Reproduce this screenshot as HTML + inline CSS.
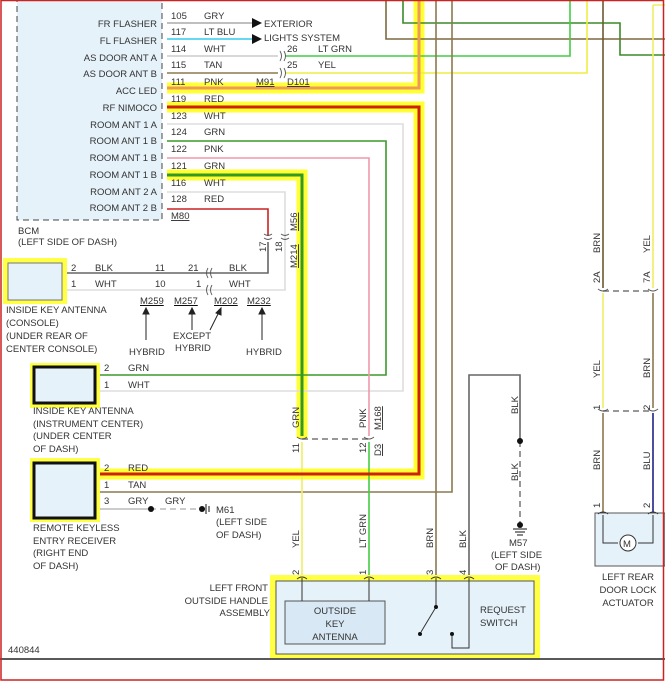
<!DOCTYPE html>
<html><head><meta charset="utf-8"><style>
html,body{margin:0;padding:0;background:#fff}
svg{display:block}
text{font-family:"Liberation Sans",sans-serif;font-size:9.5px;fill:#333}
</style></head><body>
<svg width="665" height="681" viewBox="0 0 665 681" xmlns="http://www.w3.org/2000/svg">
<rect x="0" y="0" width="665" height="681" fill="#fff"/>
<rect x="17" y="-2" width="145" height="222" fill="#e6f2fa" stroke="#444" stroke-dasharray="6,4"/>
<g text-anchor="end">
<text x="157" y="27">FR FLASHER</text><text x="157" y="44">FL FLASHER</text>
<text x="157" y="61">AS DOOR ANT A</text><text x="157" y="77">AS DOOR ANT B</text>
<text x="157" y="94">ACC LED</text><text x="157" y="111">RF NIMOCO</text>
<text x="157" y="128">ROOM ANT 1 A</text><text x="157" y="144">ROOM ANT 1 B</text>
<text x="157" y="161">ROOM ANT 1 B</text><text x="157" y="178">ROOM ANT 1 B</text>
<text x="157" y="195">ROOM ANT 2 A</text><text x="157" y="211">ROOM ANT 2 B</text>
</g>
<text x="18" y="234">BCM</text><text x="18" y="245">(LEFT SIDE OF DASH)</text>
<g fill="none" stroke="#ffff33" stroke-width="11">
<path d="M167 88 H419 V0"/>
<path d="M167 107 H419 V474 H100"/>
<path d="M167 175 H302 V438"/>
</g>
<g fill="none" stroke-width="1.6">
<path d="M403 0 V23 H620 V55 H665" stroke="#3a8a2a"/>
<path d="M386 0 V39 H665" stroke="#7a6a40"/>
<path d="M285 56 H570 V0" stroke="#44cc44"/>
<path d="M285 73 H587 V0" stroke="#eeee44"/>
<path d="M436 0 V578" stroke="#8a7a50"/>
<path d="M452 0 V492 H100" stroke="#8a7a50"/>
<path d="M167 23 H252" stroke="#aaa"/>
<path d="M167 39 H252" stroke="#33ccee"/>
<path d="M167 56 H278" stroke="#ccc"/>
<path d="M167 73 H278" stroke="#8a7a50"/>
<path d="M167 124 H403 V391 H100" stroke="#ddd"/>
<path d="M167 141 H386 V375 H100" stroke="#3a9a2a"/>
<path d="M167 158 H369 V436" stroke="#ee99aa"/>
<path d="M369 442 V578" stroke="#44cc44"/>
<path d="M302 442 V578" stroke="#eeee66"/>
<path d="M167 192 H285 V290 H67" stroke="#ddd"/>
<path d="M167 209 H268 V236" stroke="#cc2222"/>
<path d="M268 242 V273 H67" stroke="#666"/>
<path d="M603 0 V288" stroke="#6a5a30"/><path d="M603 293 V408" stroke="#eeee66"/><path d="M603 413 V515" stroke="#8a7a50"/>
<path d="M653 5 H665 M653 5 V288" stroke="#eeee66"/><path d="M653 293 V408" stroke="#8a7a50"/><path d="M653 413 V515" stroke="#222288"/>
<path d="M469 575 V375 H520 V441" stroke="#666"/>
<path d="M100 509 H150" stroke="#bbb"/>
</g>
<g fill="none" stroke-width="3">
<path d="M167 88 H419 V0" stroke="#ee9955"/>
<path d="M167 107 H419 V474 H100" stroke="#cc2200"/>
<path d="M167 175 H302 V436" stroke="#339922"/>
</g>
<g fill="none" stroke="#777" stroke-width="1.5" stroke-dasharray="6,4">
<path d="M302 439 H369"/><path d="M603 291 H653"/><path d="M603 411 H653"/>
<path d="M520 441 V525"/><path d="M150 509 H205" stroke="#bbb"/>
</g>
<circle cx="520" cy="441" r="3" fill="#111"/><circle cx="520" cy="525" r="3" fill="#111"/>
<circle cx="151" cy="509" r="3" fill="#111"/><circle cx="202" cy="509" r="3" fill="#111"/>
<path d="M206 504 V514 M209 506 V512" stroke="#111"/>
<path d="M513 529 H527 M515 532 H525 M517 535 H523" stroke="#111"/>
<path d="M252 18 L262 23 L252 28 Z M252 34 L262 39 L252 44 Z" fill="#111"/>
<text x="264" y="27">EXTERIOR</text><text x="264" y="41">LIGHTS SYSTEM</text>
<g fill="none" stroke="#555" stroke-width="0.9">
<path d="M280 51 q3 5 0 10 M284 51 q3 5 0 10 M280 68 q3 5 0 10 M284 68 q3 5 0 10"/>
<path d="M264 234 q4 3 8 0 M281 234 q4 3 8 0 M264 238 q4 3 8 0 M281 238 q4 3 8 0"/>
<path d="M208 268 q-3 5 0 10 M212 268 q-3 5 0 10 M208 285 q-3 5 0 10 M212 285 q-3 5 0 10"/>
<path d="M297 437 q5 4 10 0 M364 437 q5 4 10 0 M598 289 q5 4 10 0 M648 289 q5 4 10 0 M598 409 q5 4 10 0 M648 409 q5 4 10 0"/>
</g>
<g font-size="9">
<text x="171" y="19">105</text><text x="204" y="19">GRY</text>
<text x="171" y="35">117</text><text x="204" y="35">LT BLU</text>
<text x="171" y="52">114</text><text x="204" y="52">WHT</text>
<text x="171" y="68">115</text><text x="204" y="68">TAN</text>
<text x="171" y="85">111</text><text x="204" y="85">PNK</text>
<text x="171" y="102">119</text><text x="204" y="102">RED</text>
<text x="171" y="119">123</text><text x="204" y="119">WHT</text>
<text x="171" y="135">124</text><text x="204" y="135">GRN</text>
<text x="171" y="152">122</text><text x="204" y="152">PNK</text>
<text x="171" y="169">121</text><text x="204" y="169">GRN</text>
<text x="171" y="186">116</text><text x="204" y="186">WHT</text>
<text x="171" y="202">128</text><text x="204" y="202">RED</text>
<text x="171" y="219" text-decoration="underline">M80</text>
<text x="287" y="52">26</text><text x="318" y="52">LT GRN</text>
<text x="287" y="68">25</text><text x="318" y="68">YEL</text>
<text x="256" y="85" text-decoration="underline">M91</text><text x="287" y="85" text-decoration="underline">D101</text>
</g>
<rect x="3" y="258" width="64" height="46" fill="#ffff44"/>
<rect x="8" y="263" width="54" height="37" fill="#e6f2fa" stroke="#777"/>
<text x="71" y="271">2</text><text x="95" y="271">BLK</text><text x="155" y="271">11</text><text x="188" y="271">21</text><text x="229" y="271">BLK</text>
<text x="71" y="287">1</text><text x="95" y="287">WHT</text><text x="155" y="287">10</text><text x="196" y="287">1</text><text x="229" y="287">WHT</text>
<text x="6" y="313">INSIDE KEY ANTENNA</text><text x="6" y="326">(CONSOLE)</text><text x="6" y="339">(UNDER REAR OF</text><text x="6" y="352">CENTER CONSOLE)</text>
<g text-decoration="underline"><text x="140" y="304">M259</text><text x="174" y="304">M257</text><text x="214" y="304">M202</text><text x="247" y="304">M232</text></g>
<g stroke="#222" fill="#222"><path d="M146 340 V310 M192 330 V310 M210 330 L220 310 M262 340 V310"/>
<path d="M143 314 L146 308 L149 314Z M189 314 L192 308 L195 314Z M216 313 L221 308 L221 315Z M259 314 L262 308 L265 314Z"/></g>
<text x="129" y="355">HYBRID</text><text x="173" y="339">EXCEPT</text><text x="175" y="351">HYBRID</text><text x="246" y="355">HYBRID</text>
<g font-size="9">
<text transform="translate(266,252) rotate(-90)">17</text><text transform="translate(282,252) rotate(-90)">18</text>
<text transform="translate(297,231) rotate(-90)" text-decoration="underline">M56</text>
<text transform="translate(297,268) rotate(-90)" text-decoration="underline">M214</text>
</g>
<rect x="30" y="363" width="70" height="45" fill="#ffff44"/>
<rect x="34" y="367" width="61" height="36" fill="#e6f2fa" stroke="#111" stroke-width="3"/>
<text x="104" y="371">2</text><text x="128" y="371">GRN</text>
<text x="104" y="388">1</text><text x="128" y="388">WHT</text>
<text x="33" y="414">INSIDE KEY ANTENNA</text><text x="33" y="427">(INSTRUMENT CENTER)</text><text x="33" y="439">(UNDER CENTER</text><text x="33" y="452">OF DASH)</text>
<g font-size="9">
<text transform="translate(299,428) rotate(-90)">GRN</text><text transform="translate(299,453) rotate(-90)">11</text>
<text transform="translate(366,428) rotate(-90)">PNK</text><text transform="translate(366,453) rotate(-90)">12</text>
<text transform="translate(381,430) rotate(-90)" text-decoration="underline">M168</text>
<text transform="translate(381,456) rotate(-90)" text-decoration="underline">D3</text>
<text transform="translate(518,414) rotate(-90)">BLK</text><text transform="translate(518,481) rotate(-90)">BLK</text>
<text transform="translate(299,548) rotate(-90)">YEL</text><text transform="translate(366,548) rotate(-90)">LT GRN</text>
<text transform="translate(433,548) rotate(-90)">BRN</text><text transform="translate(466,548) rotate(-90)">BLK</text>
<text transform="translate(299,575) rotate(-90)">2</text><text transform="translate(366,575) rotate(-90)">1</text>
<text transform="translate(433,575) rotate(-90)">3</text><text transform="translate(466,575) rotate(-90)">4</text>
<text transform="translate(600,253) rotate(-90)">BRN</text><text transform="translate(650,253) rotate(-90)">YEL</text>
<text transform="translate(600,283) rotate(-90)">2A</text><text transform="translate(650,283) rotate(-90)">7A</text>
<text transform="translate(600,378) rotate(-90)">YEL</text><text transform="translate(650,378) rotate(-90)">BRN</text>
<text transform="translate(600,410) rotate(-90)">1</text><text transform="translate(650,410) rotate(-90)">2</text>
<text transform="translate(600,470) rotate(-90)">BRN</text><text transform="translate(650,470) rotate(-90)">BLU</text>
<text transform="translate(600,508) rotate(-90)">1</text><text transform="translate(650,508) rotate(-90)">2</text>
</g>
<text x="509" y="546">M57</text><text x="491" y="558">(LEFT SIDE</text><text x="495" y="570">OF DASH)</text>
<rect x="30" y="458" width="70" height="64" fill="#ffff44"/>
<rect x="34" y="463" width="61" height="55" fill="#e6f2fa" stroke="#111" stroke-width="3"/>
<text x="104" y="471">2</text><text x="128" y="471">RED</text>
<text x="104" y="488">1</text><text x="128" y="488">TAN</text>
<text x="104" y="504">3</text><text x="128" y="504">GRY</text><text x="165" y="504">GRY</text>
<text x="216" y="513">M61</text><text x="216" y="525">(LEFT SIDE</text><text x="216" y="538">OF DASH)</text>
<text x="33" y="531">REMOTE KEYLESS</text><text x="33" y="544">ENTRY RECEIVER</text><text x="33" y="556">(RIGHT END</text><text x="33" y="569">OF DASH)</text>
<text x="268" y="591" text-anchor="end">LEFT FRONT</text><text x="268" y="604" text-anchor="end">OUTSIDE HANDLE</text><text x="270" y="616" text-anchor="end">ASSEMBLY</text>
<text x="8" y="653">440844</text>
<rect x="270" y="575" width="270" height="83" fill="#ffff44"/>
<rect x="276" y="581" width="258" height="73" fill="#e6f2fa" stroke="#555"/>
<rect x="285" y="601" width="100" height="43" fill="#d8e8f4" stroke="#555"/>
<text x="335" y="614" text-anchor="middle">OUTSIDE</text><text x="335" y="627" text-anchor="middle">KEY</text><text x="335" y="640" text-anchor="middle">ANTENNA</text>
<text x="480" y="613">REQUEST</text><text x="480" y="626">SWITCH</text>
<g stroke="#333" fill="none"><path d="M302 578 V601 M369 578 V601 M436 578 V607 L421 632 M469 578 V648 H452 V635"/>
<path d="M297 579 q5 -4 10 0 M364 579 q5 -4 10 0 M431 579 q5 -4 10 0 M464 579 q5 -4 10 0"/></g>
<circle cx="436" cy="607" r="2" fill="#111"/><circle cx="420" cy="634" r="2" fill="#111"/><circle cx="452" cy="634" r="2" fill="#111"/>
<rect x="595" y="513" width="70" height="53" fill="#e6f2fa" stroke="#555"/>
<path d="M603 515 V543 H618 M653 515 V543 H638 M598 514 q5 -4 10 0 M648 514 q5 -4 10 0" stroke="#333" fill="none"/>
<circle cx="628" cy="543" r="8" fill="#fff" stroke="#333"/><text x="623" y="547">M</text>
<text x="628" y="580" text-anchor="middle">LEFT REAR</text><text x="628" y="593" text-anchor="middle">DOOR LOCK</text><text x="628" y="606" text-anchor="middle">ACTUATOR</text>
<path d="M0 659 H665" stroke="#222" stroke-width="1.5"/>
<rect x="1" y="0.5" width="662.5" height="679.5" fill="none" stroke="#cc2222" stroke-width="1.5"/>
</svg>
</body></html>
